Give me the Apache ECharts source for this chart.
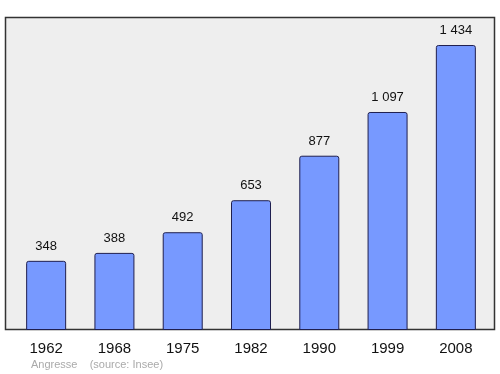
<!DOCTYPE html>
<html><head><meta charset="utf-8">
<script src="https://cdn.jsdelivr.net/npm/echarts@6/dist/echarts.min.js"></script>
<style>html,body{margin:0;padding:0;background:#fff}#c{width:500px;height:374px}</style>
</head><body><div id="c"></div>
<script>
const years = ['1962','1968','1975','1982','1990','1999','2008'];
const population = [348, 388, 492, 653, 877, 1097, 1434];
const labels = ['348','388','492','653','877','1 097','1 434'];

const chart = echarts.init(document.getElementById('c'), null, {renderer:'canvas'});
chart.setOption({
  animation:false,
  graphic:[
    {type:'rect', shape:{x:5.5,y:17.5,width:489,height:312}, style:{fill:'#eeeeee', stroke:'#333333', lineWidth:1.5}, z:-10},
    {type:'text', left:31, top:359, style:{text:'Angresse    (source: Insee)', fill:'#aaaaaa', font:'11px "Liberation Sans", Arial, sans-serif'}}
  ],
  grid:{left:12, right:10, top:17, bottom:44},
  xAxis:{type:'category', data:years, axisLine:{show:false}, axisTick:{show:false},
    axisLabel:{color:'#111', fontSize:15, fontFamily:'"Liberation Sans", Arial, sans-serif', margin:11}},
  yAxis:{type:'value', min:0, max:1575, show:false, splitLine:{show:false}},
  series:[{type:'bar', data:population, barWidth:40,
    itemStyle:{color:'#7799ff', borderColor:'#1f1f4f', borderWidth:1, borderRadius:[2,2,0,0]},
    label:{show:true, position:'top', distance:8, color:'#111', fontSize:13,
      fontFamily:'"Liberation Sans", Arial, sans-serif',
      formatter:p=>labels[p.dataIndex]}}]
});
</script></body></html>
